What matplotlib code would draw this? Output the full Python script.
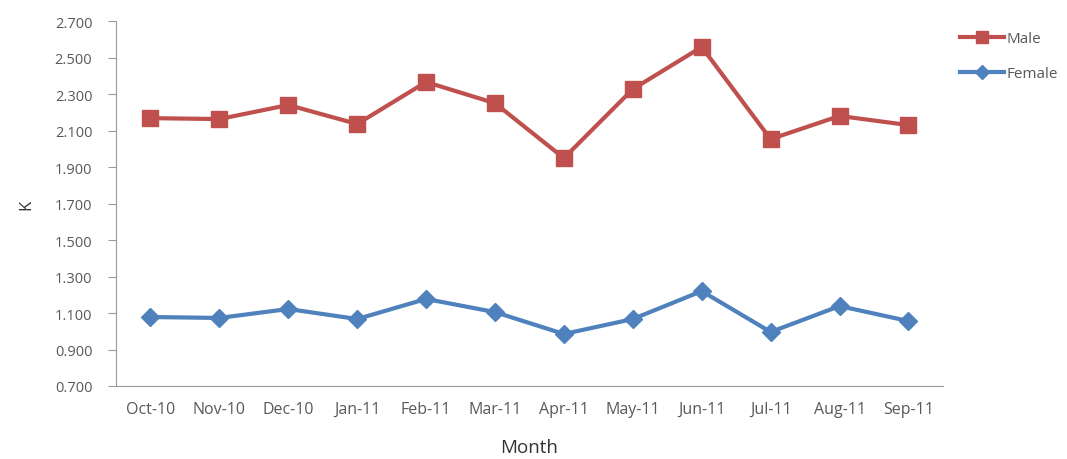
import matplotlib.pyplot as plt
from matplotlib.ticker import FormatStrFormatter

months = ["Oct-10", "Nov-10", "Dec-10", "Jan-11", "Feb-11", "Mar-11",
          "Apr-11", "May-11", "Jun-11", "Jul-11", "Aug-11", "Sep-11"]
male = [2.168, 2.163, 2.240, 2.136, 2.366, 2.250,
        1.949, 2.327, 2.558, 2.053, 2.180, 2.130]
female = [1.078, 1.073, 1.122, 1.067, 1.177, 1.105,
          0.985, 1.067, 1.220, 0.996, 1.138, 1.056]

plt.rcParams["font.family"] = ["Open Sans", "DejaVu Sans"]
text_color = "#595959"

fig = plt.figure(figsize=(10.67, 4.6), dpi=100)
ax = fig.add_axes([0.1087, 0.1587, 0.775, 0.7933])

x = range(len(months))
ax.plot(x, male, color="#C0504D", lw=3, marker="s", markersize=11, label="Male")
ax.plot(x, female, color="#4F81BD", lw=3, marker="D", markersize=9, label="Female")

ax.set_xlim(-0.5, len(months) - 0.5)
ax.set_ylim(0.7, 2.7)
ax.set_yticks([0.7 + 0.2 * i for i in range(11)])
ax.yaxis.set_major_formatter(FormatStrFormatter("%.3f"))
ax.set_xticks(list(x))
ax.set_xticklabels(months)

for side in ["top", "right"]:
    ax.spines[side].set_visible(False)
for side in ["left", "bottom"]:
    ax.spines[side].set_color("#9a9a9a")
ax.tick_params(axis="y", colors="#9a9a9a", length=6, labelsize=10.5,
               labelcolor=text_color, pad=11)
ax.tick_params(axis="x", length=0, labelsize=11.5, labelcolor=text_color, pad=11)

ax.set_ylabel("K", fontsize=12, color="#333333", labelpad=15)
ax.set_xlabel("Month", fontsize=13.5, color="#333333", labelpad=15)

fig.legend(loc="upper left", bbox_to_anchor=(0.887, 0.96), frameon=False,
           fontsize=11, labelcolor=text_color, handlelength=2.9,
           handletextpad=0.1, labelspacing=1.3, markerscale=0.8)

fig.savefig("out.png", dpi=100)
